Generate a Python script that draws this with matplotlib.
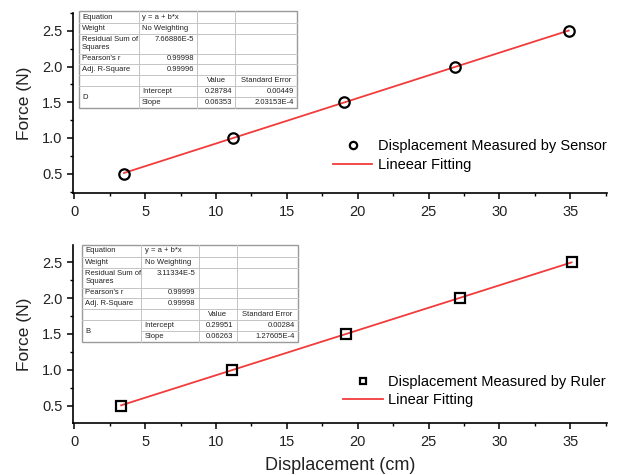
import numpy as np
import matplotlib.pyplot as plt
from matplotlib.ticker import MultipleLocator
from matplotlib.lines import Line2D
from matplotlib.patches import Rectangle

plt.rcParams['font.family'] = ['Liberation Sans', 'DejaVu Sans']

force = [0.5, 1.0, 1.5, 2.0, 2.5]
sensor_disp = [3.5, 11.2, 19.0, 26.9, 34.9]
ruler_disp = [3.3, 11.1, 19.2, 27.2, 35.1]

# fit results (intercept, slope) as printed in the tables
sensor_fit = (0.28784, 0.06353)
ruler_fit = (0.29951, 0.06263)

sensor_table = [
    ["Equation", "y = a + b*x", "", ""],
    ["Weight", "No Weighting", "", ""],
    ["Residual Sum of\nSquares", "7.66886E-5", "", ""],
    ["Pearson's r", "0.99998", "", ""],
    ["Adj. R-Square", "0.99996", "", ""],
    ["", "", "Value", "Standard Error"],
    ["D", "Intercept", "0.28784", "0.00449"],
    ["", "Slope", "0.06353", "2.03153E-4"],
]
ruler_table = [
    ["Equation", "y = a + b*x", "", ""],
    ["Weight", "No Weighting", "", ""],
    ["Residual Sum of\nSquares", "3.11334E-5", "", ""],
    ["Pearson's r", "0.99999", "", ""],
    ["Adj. R-Square", "0.99998", "", ""],
    ["", "", "Value", "Standard Error"],
    ["B", "Intercept", "0.29951", "0.00284"],
    ["", "Slope", "0.06263", "1.27605E-4"],
]

RED = '#f23b3b'
GRID = '#c4c4c4'


def draw_table(ax, rows, left, right, top, bottom):
    col_w = np.array([60, 58, 38, 62], float)
    col_edges = left + np.concatenate([[0], np.cumsum(col_w)]) / col_w.sum() * (right - left)
    row_h = np.array([1.1, 1, 1.8, 0.95, 1, 1.05, 1, 1], float)
    row_edges = top - np.concatenate([[0], np.cumsum(row_h)]) / row_h.sum() * (top - bottom)
    tr = ax.transAxes
    ax.add_patch(Rectangle((left, bottom), right - left, top - bottom, transform=tr,
                           facecolor='white', edgecolor='#9a9a9a', lw=1.0,
                           zorder=5, clip_on=False))
    # vertical lines
    for x in col_edges[1:-1]:
        ax.add_line(Line2D([x, x], [bottom, top], transform=tr, color=GRID,
                           lw=0.7, zorder=6, clip_on=False))
    # horizontal lines (the label cell of the last two rows is merged)
    for i, y in enumerate(row_edges[1:-1], start=1):
        x0 = col_edges[1] if i == 7 else left
        ax.add_line(Line2D([x0, right], [y, y], transform=tr, color=GRID,
                           lw=0.7, zorder=6, clip_on=False))
    fs = 5.5
    padx = 0.006
    for i, row in enumerate(rows):
        ytop, ybot = row_edges[i], row_edges[i + 1]
        y_mid = (ytop + ybot) / 2
        for j, txt in enumerate(row):
            if not txt:
                continue
            xl, xr = col_edges[j], col_edges[j + 1]
            y = y_mid
            va = 'center'
            if i == 6 and j == 0:
                y = row_edges[7]
            if i == 2 and j == 1:
                y = ytop - 0.012
                va = 'top'
            numeric = txt[0].isdigit()
            if txt in ("Value", "Standard Error"):
                ax.text((xl + xr) / 2, y, txt, transform=tr, fontsize=fs, ha='center',
                        va=va, zorder=7, color='#222222', clip_on=False)
            elif numeric:
                ax.text(xr - padx, y, txt, transform=tr, fontsize=fs, ha='right',
                        va=va, zorder=7, color='#222222', clip_on=False)
            else:
                ax.text(xl + padx, y, txt, transform=tr, fontsize=fs, ha='left',
                        va=va, zorder=7, color='#222222', clip_on=False,
                        linespacing=1.1)


def style_axes(ax, ylim):
    ax.set_xlim(-0.1, 37.6)
    ax.set_ylim(*ylim)
    ax.xaxis.set_major_locator(MultipleLocator(5))
    ax.xaxis.set_minor_locator(MultipleLocator(2.5))
    ax.yaxis.set_major_locator(MultipleLocator(0.5))
    ax.yaxis.set_minor_locator(MultipleLocator(0.25))
    ax.set_yticks([0.5, 1.0, 1.5, 2.0, 2.5])
    ax.spines['top'].set_visible(False)
    ax.spines['right'].set_visible(False)
    for s in ('left', 'bottom'):
        ax.spines[s].set_linewidth(1.2)
    ax.tick_params(which='major', direction='out', length=4.5, width=1.1,
                   labelsize=10.5, colors='black', labelcolor='#222222')
    ax.tick_params(which='minor', direction='out', length=2.5, width=1.0)
    ax.tick_params(axis='x', pad=4)
    ax.tick_params(axis='y', pad=3)
    ax.set_ylabel("Force (N)", fontsize=12.5, labelpad=7, color='#222222')


fig = plt.figure(figsize=(6.17, 4.75), dpi=100)
ax1 = fig.add_axes([0.1183, 0.5937, 0.8655, 0.3789])
ax2 = fig.add_axes([0.1183, 0.1095, 0.8655, 0.3747])

# top: sensor
xs = np.array([sensor_disp[0], sensor_disp[-1]])
ax1.plot(xs, sensor_fit[0] + sensor_fit[1] * xs, color=RED, lw=1.3,
         label="Lineear Fitting", zorder=2)
ax1.plot(sensor_disp, force, 'o', ms=7.5, mfc='none', mec='black', mew=1.6,
         label="Displacement Measured by Sensor", zorder=3)
style_axes(ax1, (0.23, 2.75))
h, l = ax1.get_legend_handles_labels()
ax1.legend(h[::-1], l[::-1], loc='center left', bbox_to_anchor=(0.487, 0.206),
           frameon=False, fontsize=10.5, handlelength=2.7, handletextpad=0.35,
           labelspacing=0.35, borderpad=0, borderaxespad=0, markerscale=0.7)
draw_table(ax1, sensor_table, 0.0112, 0.4195, 1.011, 0.472)

# bottom: ruler
xr = np.array([ruler_disp[0], ruler_disp[-1]])
ax2.plot(xr, ruler_fit[0] + ruler_fit[1] * xr, color=RED, lw=1.3,
         label="Linear Fitting", zorder=2)
ax2.plot(ruler_disp, force, 's', ms=7, mfc='none', mec='black', mew=1.6,
         label="Displacement Measured by Ruler", zorder=3)
style_axes(ax2, (0.26, 2.74))
ax2.set_xlabel("Displacement (cm)", fontsize=13, labelpad=6, color='#222222')
h, l = ax2.get_legend_handles_labels()
ax2.legend(h[::-1], l[::-1], loc='center left', bbox_to_anchor=(0.506, 0.18),
           frameon=False, fontsize=10.5, handlelength=2.7, handletextpad=0.4,
           labelspacing=0.25, borderpad=0, borderaxespad=0, markerscale=0.7)
draw_table(ax2, ruler_table, 0.0169, 0.4213, 1.0, 0.455)

fig.savefig("out.png", dpi=100)
plt.close(fig)
